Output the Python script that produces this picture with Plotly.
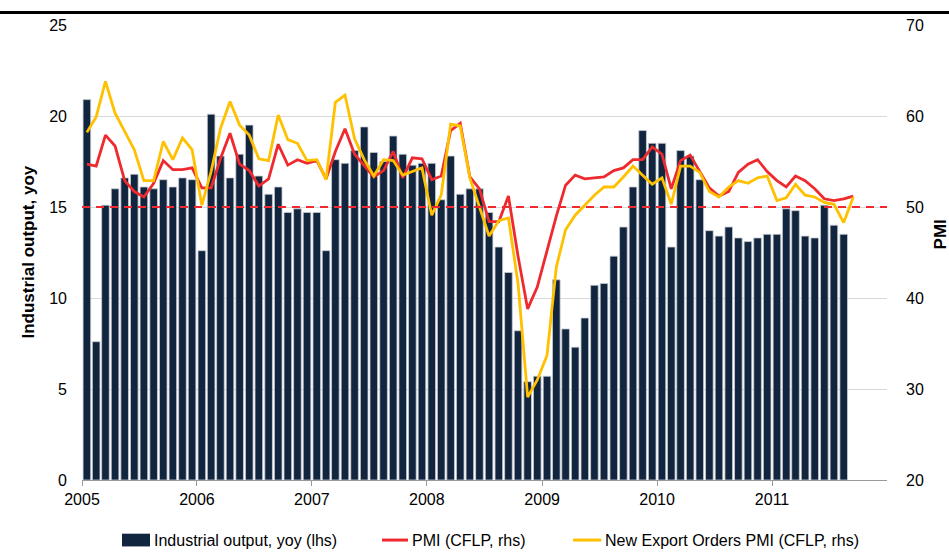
import pandas as pd
import plotly.graph_objects as go

# ---- data ----
bar_months = pd.date_range("2005-01-01", "2011-08-01", freq="MS").strftime("%Y-%m").tolist()
line_months = pd.date_range("2005-01-01", "2011-09-01", freq="MS").strftime("%Y-%m").tolist()

industrial_output = [
    20.9, 7.6, 15.1, 16.0, 16.6, 16.8, 16.1, 16.0, 16.5, 16.1, 16.6, 16.5,
    12.6, 20.1, 17.8, 16.6, 17.9, 19.5, 16.7, 15.7, 16.1, 14.7, 14.9, 14.7,
    14.7, 12.6, 17.6, 17.4, 18.1, 19.4, 18.0, 17.5, 18.9, 17.9, 17.3, 17.4,
    17.4, 15.4, 17.8, 15.7, 16.0, 16.0, 14.7, 12.8, 11.4, 8.2, 5.4, 5.7,
    5.7, 11.0, 8.3, 7.3, 8.9, 10.7, 10.8, 12.3, 13.9, 16.1, 19.2, 18.5,
    18.5, 12.8, 18.1, 17.8, 16.5, 13.7, 13.4, 13.9, 13.3, 13.1, 13.3, 13.5,
    13.5, 14.9, 14.8, 13.4, 13.3, 15.1, 14.0, 13.5,
]

pmi = [
    54.7, 54.5, 57.9, 56.7, 52.9, 51.7, 51.1, 52.6, 55.1, 54.1, 54.1, 54.3,
    52.1, 52.1, 55.3, 58.1, 54.7, 54.0, 52.3, 53.1, 56.9, 54.6, 55.2, 54.8,
    55.1, 53.1, 56.1, 58.6, 55.8, 54.5, 53.3, 54.0, 56.1, 53.2, 55.4, 55.3,
    53.0, 53.4, 58.4, 59.2, 53.3, 52.0, 48.4, 48.4, 51.2, 44.6, 38.8, 41.2,
    45.3, 49.0, 52.4, 53.5, 53.1, 53.2, 53.3, 54.0, 54.3, 55.2, 55.2, 56.6,
    55.8, 52.0, 55.1, 55.7, 53.9, 52.1, 51.2, 51.7, 53.8, 54.7, 55.2, 53.9,
    52.9, 52.2, 53.4, 52.9, 52.0, 50.9, 50.7, 50.9, 51.2,
]

export_orders = [
    58.2, 59.9, 63.8, 60.3, 58.3, 56.3, 52.9, 52.9, 57.2, 55.2, 57.6, 56.3,
    50.2, 53.9, 58.6, 61.6, 59.0, 57.9, 55.3, 55.1, 60.1, 57.4, 57.0, 55.1,
    55.2, 53.0, 61.5, 62.3, 57.5, 55.2, 53.4, 55.2, 55.1, 53.5, 53.9, 54.3,
    49.1, 51.3, 59.1, 58.9, 53.2, 50.0, 46.8, 48.5, 48.8, 41.6, 29.1, 31.0,
    33.7, 43.4, 47.5, 49.1, 50.2, 51.3, 52.2, 52.2, 53.3, 54.5, 53.5, 52.5,
    53.2, 50.3, 54.5, 54.5, 53.8, 51.7, 51.1, 52.2, 52.9, 52.6, 53.2, 53.4,
    50.7, 51.0, 52.5, 51.3, 51.1, 50.5, 50.3, 48.3, 51.1,
]

threshold = 50
year_ticks = ["2005", "2006", "2007", "2008", "2009", "2010", "2011"]
series_names = ["Industrial output, yoy (lhs)", "PMI (CFLP, rhs)",
                "New Export Orders PMI (CFLP, rhs)"]

# ---- styling ----
FONT = "Liberation Sans Narrow, Arial Narrow, Liberation Sans, Arial, sans-serif"
NAVY = "#12253F"
RED = "#EE2A2F"
YELLOW = "#FFC000"

fig = go.Figure()

fig.add_trace(go.Bar(
    x=bar_months, y=industrial_output, name=series_names[0],
    xperiod="M1", xperiodalignment="middle",
    marker=dict(color=NAVY, line=dict(color="#C9CDD3", width=0.8)),
    yaxis="y",
))
fig.add_trace(go.Scatter(
    x=line_months, y=pmi, name=series_names[1], mode="lines",
    xperiod="M1", xperiodalignment="middle",
    line=dict(color=RED, width=2.8), yaxis="y2",
))
fig.add_trace(go.Scatter(
    x=line_months, y=export_orders, name=series_names[2], mode="lines",
    xperiod="M1", xperiodalignment="middle",
    line=dict(color=YELLOW, width=2.8), yaxis="y2",
))
fig.add_trace(go.Scatter(
    x=["2005-01-01", "2012-01-01"], y=[threshold, threshold], mode="lines",
    line=dict(color=RED, width=2, dash="8px,6px"), yaxis="y2",
    showlegend=False, hoverinfo="skip",
))

# custom legend (paper coordinates)
LEG_Y = -0.132
legend_shapes = [
    dict(type="rect", xref="paper", yref="paper", x0=0.0497, x1=0.0845,
         y0=LEG_Y - 0.014, y1=LEG_Y + 0.014, fillcolor=NAVY, line=dict(width=0)),
    dict(type="line", xref="paper", yref="paper", x0=0.3727, x1=0.405,
         y0=LEG_Y, y1=LEG_Y, line=dict(color=RED, width=3)),
    dict(type="line", xref="paper", yref="paper", x0=0.610, x1=0.645,
         y0=LEG_Y, y1=LEG_Y, line=dict(color=YELLOW, width=3)),
]
legend_text_x = [0.087, 0.408, 0.647]
legend_annos = [
    dict(text=n, xref="paper", yref="paper", x=tx, y=LEG_Y, showarrow=False,
         xanchor="left", yanchor="middle", font=dict(size=16))
    for n, tx in zip(series_names, legend_text_x)
]

fig.update_layout(
    width=949, height=554,
    margin=dict(l=82, r=62, t=25, b=74, autoexpand=False),
    paper_bgcolor="white", plot_bgcolor="white",
    font=dict(family=FONT, size=16, color="#000000"),
    bargap=0.18,
    showlegend=False,
    xaxis=dict(
        type="date", range=["2005-01-01", "2012-01-01"], automargin=False,
        tickvals=[f"{y}-01-01" for y in year_ticks], ticktext=year_ticks,
        showgrid=False, showline=True, linecolor="#9A9A9A", linewidth=1.3,
        ticks="outside", ticklen=5, tickcolor="#9A9A9A", tickfont=dict(size=16),
        zeroline=False,
    ),
    yaxis=dict(
        range=[0, 25], tickvals=[0, 5, 10, 15, 20, 25], automargin=False,
        showgrid=True, gridcolor="#D9D9D9", gridwidth=1.2,
        showline=False, zeroline=False, ticks="", ticklabelstandoff=14,
        tickfont=dict(size=16),
    ),
    yaxis2=dict(
        range=[20, 70], tickvals=[20, 30, 40, 50, 60, 70], automargin=False,
        overlaying="y", side="right", showgrid=False, showline=False,
        zeroline=False, ticks="", ticklabelstandoff=18,
        tickfont=dict(size=16),
    ),
    annotations=[
        dict(text="<b>Industrial output, yoy</b>", xref="paper", yref="paper",
             x=-0.067, y=0.5, textangle=-90, showarrow=False,
             xanchor="center", yanchor="middle", font=dict(size=17)),
        dict(text="<b>PMI</b>", xref="paper", yref="paper",
             x=1.066, y=0.54, textangle=-90, showarrow=False,
             xanchor="center", yanchor="middle", font=dict(size=17)),
    ] + legend_annos,
    shapes=[dict(type="line", xref="paper", yref="paper",
                 x0=-0.102, x1=1.08, y0=1.0275, y1=1.0275,
                 line=dict(color="#000000", width=3))] + legend_shapes,
)

fig.write_html("out.html", post_script="document.body.style.margin='0px';",
               config={"displayModeBar": False})
